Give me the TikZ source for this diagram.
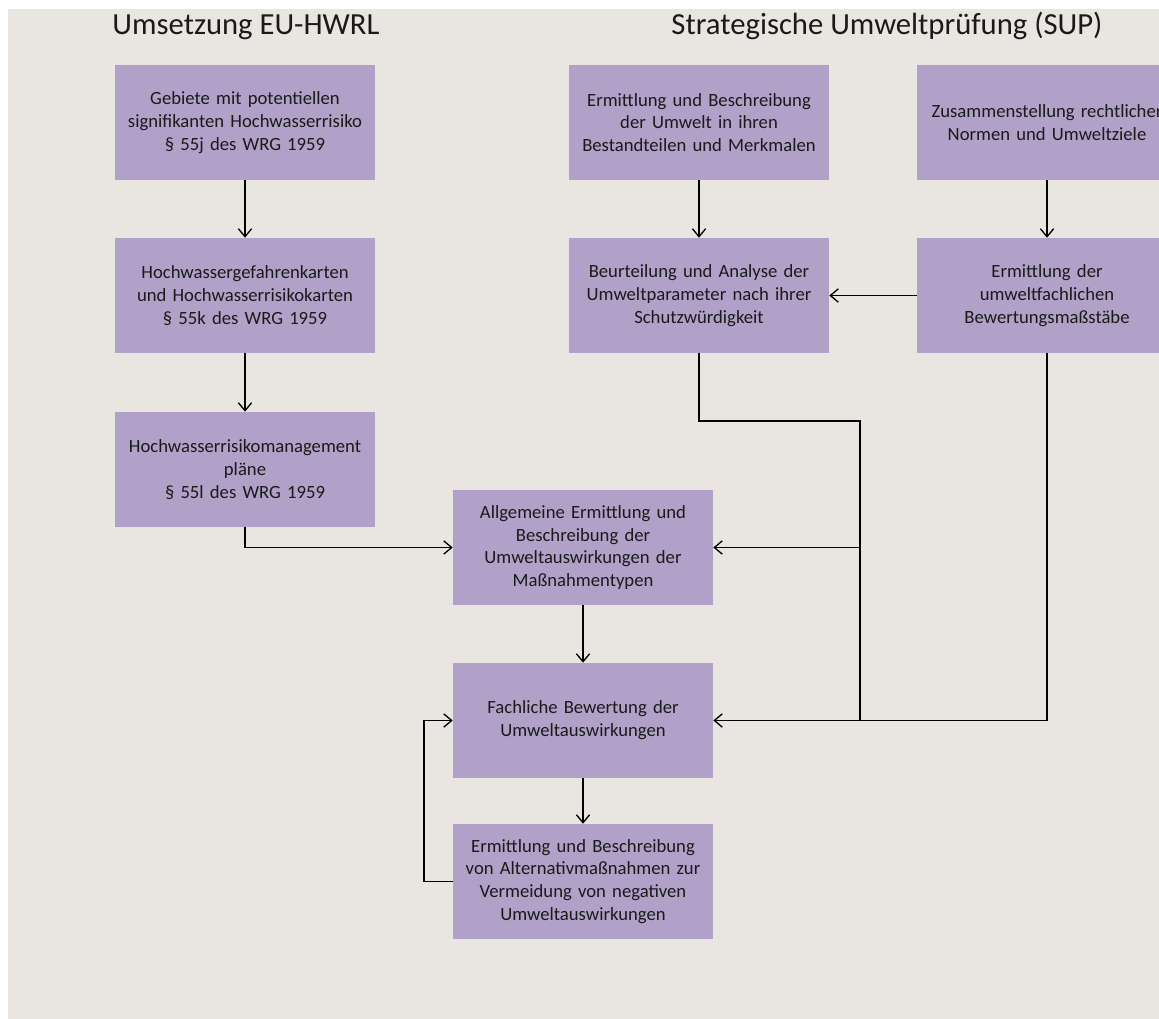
\documentclass[tikz,border=0pt]{standalone}
\usepackage{fontspec}
\setmainfont{Carlito}
\usetikzlibrary{arrows.meta}
\definecolor{bgc}{HTML}{E9E6E1}
\definecolor{boxc}{HTML}{B1A0C7}
\definecolor{txtc}{HTML}{1A1A1A}
\begin{document}
\begin{tikzpicture}[x=0.75pt,y=-0.75pt,
  stepbox/.style={rectangle, fill=boxc, draw=none, minimum width=195pt, minimum height=86.25pt,
     text width=190pt, align=center, inner sep=0pt, text=txtc,
     font=\fontsize{14}{17.1}\selectfont},
  titletext/.style={anchor=base, text=txtc, font=\fontsize{23}{27}\selectfont, inner sep=0pt},
  conn/.style={draw=black, line width=1pt},
  arr/.style={conn, -{Straight Barb[length=6pt,width=10pt,line width=1pt]}}]
\useasboundingbox (0,0) rectangle (1159,1019);
\fill[bgc] (8,9) rectangle (1200,1019);

\node[titletext] (t1) at (246,35) {Umsetzung EU-HWRL};
\node[titletext] (t2) at (887,35) {Strategische Umweltprüfung (SUP)};

\node[stepbox] (A1) at (245,122.5) {Gebiete mit potentiellen\\signifikanten Hochwasserrisiko\\§ 55j des WRG 1959};
\node[stepbox] (A2) at (245,295.5) {Hochwassergefahrenkarten\\und Hochwasserrisikokarten\\§ 55k des WRG 1959};
\node[stepbox] (A3) at (245,469.5) {Hochwasserrisikomanagement\\pläne\\§ 55l des WRG 1959};
\node[stepbox] (B1) at (699,122.5) {Ermittlung und Beschreibung\\der Umwelt in ihren\\Bestandteilen und Merkmalen};
\node[stepbox] (B2) at (699,295.5) {Beurteilung und Analyse der\\Umweltparameter nach ihrer\\Schutzwürdigkeit};
\node[stepbox] (C1) at (1047,122.5) {Zusammenstellung rechtlicher\\Normen und Umweltziele};
\node[stepbox] (C2) at (1047,295.5) {Ermittlung der\\umweltfachlichen\\Bewertungsmaßstäbe};
\node[stepbox] (D1) at (583,547.5) {Allgemeine Ermittlung und\\Beschreibung der\\Umweltauswirkungen der\\Maßnahmentypen};
\node[stepbox] (D2) at (583,720.5) {Fachliche Bewertung der\\Umweltauswirkungen};
\node[stepbox] (D3) at (583,881.5) {Ermittlung und Beschreibung\\von Alternativmaßnahmen zur\\Vermeidung von negativen\\Umweltauswirkungen};

\coordinate (j1) at (860,421);
\coordinate (j2) at (860,547.5);
\coordinate (j3) at (860,720.5);
\coordinate (fb) at (424,881.5);

\draw[arr] (A1) -- (A2);
\draw[arr] (A2) -- (A3);
\draw[arr] (A3.south) |- (D1.west);
\draw[arr] (B1) -- (B2);
\draw[arr] (C1) -- (C2);
\draw[arr] (C2) -- (B2);
\draw[conn] (B2.south) |- (j1) -- (j3);
\draw[arr] (j2) -- (D1.east);
\draw[arr] (C2.south) |- (D2.east);
\draw[arr] (D1) -- (D2);
\draw[arr] (D2) -- (D3);
\draw[arr] (D3.west) -- (fb) |- (D2.west);
\end{tikzpicture}
\end{document}
